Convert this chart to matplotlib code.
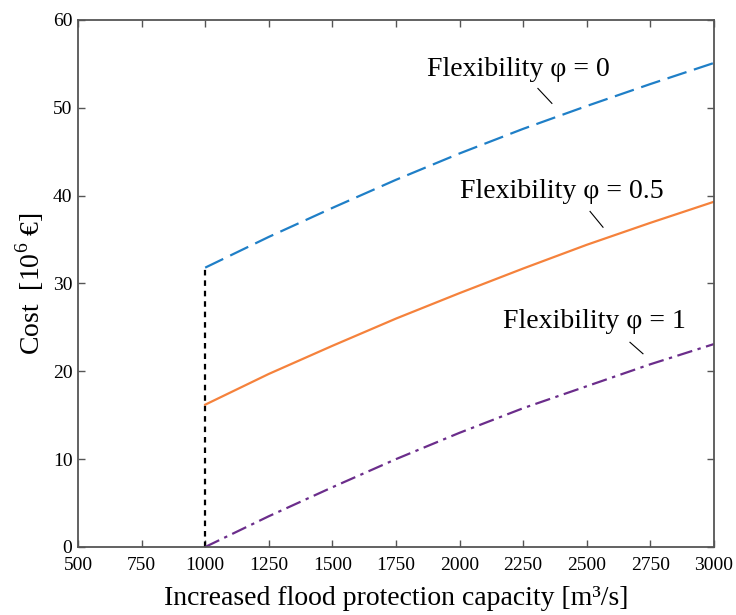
import matplotlib
matplotlib.use("Agg")
import matplotlib.pyplot as plt

plt.rcParams['font.family'] = ['Liberation Serif', 'DejaVu Serif']
plt.rcParams['mathtext.fontset'] = 'custom'
plt.rcParams['mathtext.rm'] = 'Liberation Serif'

# capacity [m3/s] and cost [10^6 EUR] for the three flexibility levels
capacity = [1000, 1250, 1500, 1750, 2000, 2250, 2500, 2750, 3000]
cost_flex0 = [31.8, 35.3, 38.6, 41.8, 44.8, 47.6, 50.2, 52.7, 55.1]
cost_flex05 = [16.2, 19.7, 22.9, 26.0, 28.9, 31.7, 34.4, 36.9, 39.3]
cost_flex1 = [0.0, 3.5, 6.8, 10.0, 13.0, 15.8, 18.3, 20.8, 23.1]

x_ticks = [500, 750, 1000, 1250, 1500, 1750, 2000, 2250, 2500, 2750, 3000]
y_ticks = [0, 10, 20, 30, 40, 50, 60]

fig = plt.figure(figsize=(7.36, 6.15), dpi=100)
ax = fig.add_axes([0.106, 0.1106, 0.864, 0.857])

# vertical marker at the starting capacity
ax.plot([capacity[0], capacity[0]], [0, cost_flex0[0]], color='black',
        lw=1.6, linestyle=(0, (2.5, 2.2)))

ax.plot(capacity, cost_flex0, color='#1f7fc7', lw=1.6,
        linestyle=(0, (9, 3.5)))
ax.plot(capacity, cost_flex05, color='#f5823c', lw=1.6)
ax.plot(capacity, cost_flex1, color='#6b2d8b', lw=1.6,
        linestyle=(0, (7, 2.5, 1.5, 2.5)))

ax.set_xlim(500, 3000)
ax.set_ylim(0, 60)
ax.set_xticks(x_ticks)
ax.set_yticks(y_ticks)

ax.tick_params(direction='in', top=True, right=True, length=5, width=1,
               color='#555555', labelsize=14)
ax.tick_params(axis='x', pad=7)
ax.tick_params(axis='y', pad=4)
for s in ax.spines.values():
    s.set_color('#555555')
    s.set_linewidth(1.3)

ax.set_xlabel('Increased flood protection capacity [m³/s]', fontsize=20,
              labelpad=9)
ax.set_ylabel('Cost  [10$^{6}$ €]', fontsize=20, labelpad=5)

# curve labels with short leader lines
labels = [('Flexibility φ = 0', 2230, 54.4, 2308, 52.2, 2363, 50.5),
          ('Flexibility φ = 0.5', 2402, 40.5, 2513, 38.2, 2564, 36.4),
          ('Flexibility φ = 1', 2532, 25.7, 2670, 23.3, 2721, 22.0)]
for txt, tx, ty, x0, y0, x1, y1 in labels:
    ax.text(tx, ty, txt, fontsize=20, ha='center', va='center')
    ax.plot([x0, x1], [y0, y1], color='black', lw=0.8)

fig.savefig('out.png', dpi=100)
